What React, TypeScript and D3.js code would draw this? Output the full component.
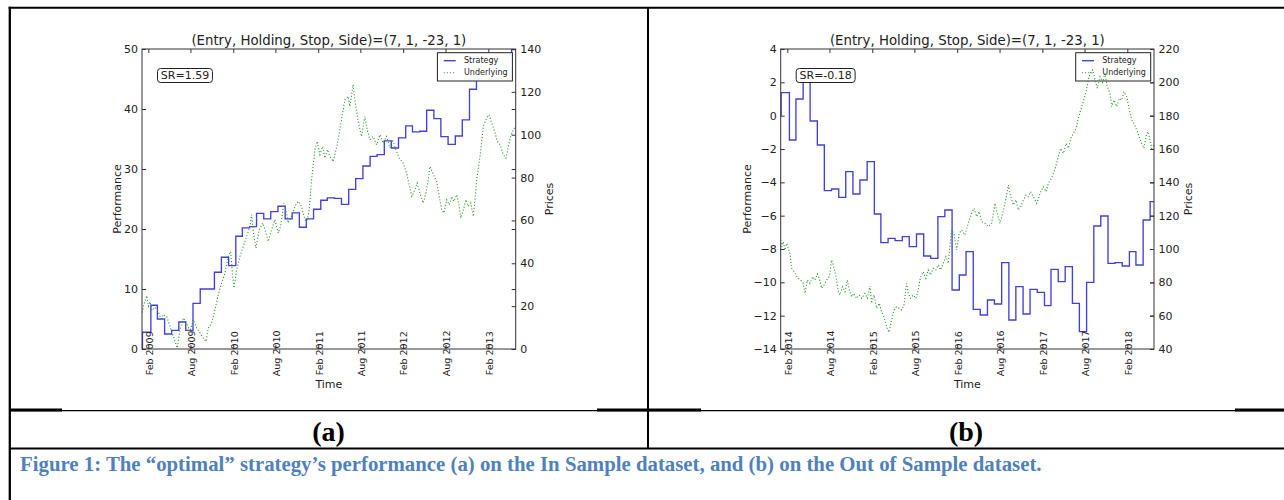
import { useEffect, useRef } from "react";
import * as d3 from "d3";

const W = 1284;
const H = 500;

const chartTitle = "(Entry, Holding, Stop, Side)=(7, 1, -23, 1)";
const seriesNames = ["Strategy", "Underlying"];
const panelLetters = ["(a)", "(b)"];
const sharpeLabels = ["SR=1.59", "SR=-0.18"];
const captionText =
  "Figure 1: The \u201coptimal\u201d strategy\u2019s performance (a) on the In Sample dataset, and (b) on the Out of Sample dataset.";

// time span of each panel, decimal years
const yearsA = [2009.0106, 2013.407];
const yearsB = [2014.007, 2018.399];

const perfTicksA = [0, 10, 20, 30, 40, 50];
const priceTicksA = [0, 20, 40, 60, 80, 100, 120, 140];
const perfTicksB = [-14, -12, -10, -8, -6, -4, -2, 0, 2, 4];
const priceTicksB = [40, 60, 80, 100, 120, 140, 160, 180, 200, 220];

// strategy level per month, first entry = January of the first year
const strategyA = [
  2.8, 7.3, 5.0, 2.5, 3.1, 4.5, 3.1, 7.6, 10.0, 10.0, 12.8, 15.3,
  13.9, 18.8, 20.2, 20.4, 22.6, 21.7, 22.9, 23.8, 21.7, 22.7, 20.3, 21.7,
  23.3, 24.8, 25.2, 25.1, 24.1, 26.6, 28.4, 30.5, 32.1, 32.4, 34.7, 33.5,
  35.2, 37.2, 36.2, 36.3, 39.8, 38.4, 35.4, 34.1, 35.5, 38.2, 43.3, 45.2,
  46.0, 46.8, 47.5, 48.6, 49.9,
];
const strategyB = [
  1.38, -1.46, 1.0, 2.5, -0.32, -1.76, -4.5, -4.4, -4.9, -3.36, -4.7, -3.86,
  -2.76, -5.9, -7.62, -7.36, -7.5, -7.26, -7.86, -7.1, -8.42, -8.56, -6.06, -5.66,
  -10.46, -9.56, -8.16, -11.62, -11.96, -11.06, -11.3, -8.82, -12.26, -10.26, -11.9, -10.42,
  -10.6, -11.4, -9.22, -9.96, -9.06, -11.26, -12.96, -10.0, -6.62, -6.02, -8.86, -8.82,
  -9.02, -8.16, -8.96, -6.26, -5.16,
];
// day of the month on which the strategy level changes
const stepDayA = 12;
const stepDayB = 10;

// underlying price: [decimal year, price]
const underlyingA: [number, number][] = [
  [2009.014, 17], [2009.034, 21], [2009.066, 24.9], [2009.087, 20], [2009.105, 22], [2009.128, 18],
  [2009.164, 19.5], [2009.202, 17.5], [2009.234, 14], [2009.258, 16], [2009.301, 15.2], [2009.34, 10.5],
  [2009.379, 5.9], [2009.426, 0.5], [2009.458, 9], [2009.496, 14.5], [2009.536, 12.1], [2009.575, 8.2],
  [2009.614, 13.7], [2009.654, 9.8], [2009.693, 7.5], [2009.732, 5.1], [2009.764, 3.5], [2009.791, 9.8],
  [2009.831, 12.1], [2009.869, 18.3], [2009.908, 25.3], [2009.948, 30.8], [2009.987, 35.5], [2010.026, 43.2],
  [2010.054, 45.5], [2010.078, 33.9], [2010.093, 28.5], [2010.125, 37], [2010.164, 43.2], [2010.202, 47.9],
  [2010.242, 52.5], [2010.281, 57.2], [2010.301, 62.7], [2010.328, 52.5], [2010.352, 47.1], [2010.391, 55.7],
  [2010.431, 58.8], [2010.458, 55.7], [2010.496, 50.2], [2010.536, 55.7], [2010.575, 60.3], [2010.614, 54.1],
  [2010.642, 57.2], [2010.681, 68.1], [2010.705, 65], [2010.732, 58.8], [2010.772, 61.9], [2010.811, 66.6],
  [2010.849, 68.9], [2010.889, 66.6], [2010.916, 61.9], [2010.948, 58.8], [2010.979, 65], [2011.007, 79],
  [2011.026, 86], [2011.046, 93], [2011.073, 96.9], [2011.105, 90.7], [2011.136, 94.5], [2011.164, 89.1],
  [2011.195, 93], [2011.222, 89.9], [2011.261, 87.5], [2011.281, 90.7], [2011.308, 95.3], [2011.34, 102.3],
  [2011.372, 110.1], [2011.399, 116.3], [2011.438, 117.9], [2011.458, 113.2], [2011.496, 123.3], [2011.516, 116.3],
  [2011.555, 106.2], [2011.595, 99.2], [2011.634, 108.5], [2011.661, 102.3], [2011.693, 97.7], [2011.732, 99.2],
  [2011.772, 95.3], [2011.811, 100], [2011.849, 96.1], [2011.889, 99.2], [2011.928, 93.8], [2011.96, 97.7],
  [2011.999, 93], [2012.038, 89.1], [2012.085, 86.8], [2012.125, 82.1], [2012.164, 75], [2012.187, 71.2],
  [2012.222, 74.3], [2012.249, 77.5], [2012.281, 72.8], [2012.32, 68.1], [2012.352, 72.8], [2012.379, 79],
  [2012.399, 85.2], [2012.434, 82], [2012.478, 78], [2012.508, 71.2], [2012.536, 65], [2012.564, 63.5],
  [2012.595, 69.7], [2012.626, 67.3], [2012.654, 71.2], [2012.681, 68.9], [2012.713, 72], [2012.744, 66.6],
  [2012.76, 61.1], [2012.791, 65], [2012.822, 69.7], [2012.849, 66.6], [2012.878, 68.1], [2012.908, 61.9],
  [2012.928, 69.7], [2012.948, 79], [2012.987, 89.9], [2013.026, 103.9], [2013.066, 107.8], [2013.093, 109.3],
  [2013.125, 105.5], [2013.164, 100.8], [2013.191, 96.9], [2013.222, 95.3], [2013.261, 90.7], [2013.293, 89.1],
  [2013.32, 94.5], [2013.348, 99.2], [2013.379, 102.3], [2013.407, 103.9],
];
const underlyingB: [number, number][] = [
  [2014.007, 105.4], [2014.019, 101.4], [2014.038, 104.4], [2014.058, 99.4], [2014.078, 103.4], [2014.096, 100.4],
  [2014.116, 97.4], [2014.136, 88.4], [2014.155, 87.4], [2014.187, 84.4], [2014.214, 82.4], [2014.242, 81.4],
  [2014.273, 79.4], [2014.293, 73.4], [2014.32, 81.4], [2014.352, 79.4], [2014.384, 83.4], [2014.411, 81.4],
  [2014.438, 85], [2014.461, 82.4], [2014.489, 76.4], [2014.516, 78.4], [2014.548, 81.4], [2014.579, 83.4],
  [2014.607, 93.4], [2014.626, 90.4], [2014.658, 83.4], [2014.685, 74.4], [2014.705, 72.4], [2014.736, 77.4],
  [2014.764, 74.4], [2014.791, 81.4], [2014.814, 75.4], [2014.842, 71.4], [2014.869, 73.4], [2014.901, 70.4],
  [2014.932, 72.4], [2014.96, 70.4], [2014.999, 73.4], [2015.026, 70.4], [2015.058, 77.8], [2015.078, 67.4],
  [2015.105, 72.4], [2015.136, 64.4], [2015.167, 67.4], [2015.195, 62.4], [2015.222, 59.4], [2015.254, 53.4],
  [2015.281, 50], [2015.313, 57.4], [2015.34, 63.4], [2015.372, 65.4], [2015.402, 64.4], [2015.431, 63.4],
  [2015.458, 66.4], [2015.489, 79.4], [2015.508, 73.4], [2015.536, 70.4], [2015.567, 72.4], [2015.599, 70.4],
  [2015.626, 75.4], [2015.654, 83.4], [2015.685, 86.4], [2015.716, 82.4], [2015.744, 87.4], [2015.772, 84.4],
  [2015.802, 88.4], [2015.834, 87.4], [2015.861, 90.4], [2015.889, 87.4], [2015.92, 91.4], [2015.952, 95.4],
  [2015.979, 91.4], [2015.999, 101.4], [2016.019, 111.4], [2016.046, 109.4], [2016.078, 99.4], [2016.108, 109.4],
  [2016.136, 111.4], [2016.175, 108.4], [2016.214, 115.4], [2016.254, 121.4], [2016.281, 124.4], [2016.313, 119.4],
  [2016.344, 122.4], [2016.372, 116.4], [2016.411, 115.4], [2016.449, 113.4], [2016.489, 115.4], [2016.528, 127.4],
  [2016.555, 121.4], [2016.587, 115.4], [2016.619, 121.4], [2016.658, 130.4], [2016.685, 138.4], [2016.713, 131.4],
  [2016.744, 126.4], [2016.775, 129.4], [2016.802, 123.4], [2016.831, 125.4], [2016.861, 129.4], [2016.893, 132.4],
  [2016.92, 131.4], [2016.948, 134.4], [2016.979, 131.4], [2017.019, 127.4], [2017.058, 133.4], [2017.096, 137.4],
  [2017.128, 134.4], [2017.155, 139.4], [2017.195, 143], [2017.234, 148], [2017.273, 155.4], [2017.301, 160.4],
  [2017.332, 157.4], [2017.364, 163.4], [2017.391, 160.4], [2017.419, 166.4], [2017.449, 169.4], [2017.481, 172.4],
  [2017.508, 178.4], [2017.536, 183.4], [2017.567, 188.4], [2017.599, 194.4], [2017.626, 201.4], [2017.646, 205.4],
  [2017.678, 207.4], [2017.705, 201.4], [2017.732, 196.4], [2017.764, 203.4], [2017.795, 200], [2017.822, 205.4],
  [2017.849, 197.4], [2017.881, 193.4], [2017.901, 185.4], [2017.928, 189.4], [2017.96, 185.4], [2017.991, 190.4],
  [2018.019, 189.4], [2018.046, 194.4], [2018.078, 191.4], [2018.108, 183.4], [2018.136, 177.4], [2018.164, 175.4],
  [2018.195, 171.4], [2018.226, 167.4], [2018.254, 163.4], [2018.281, 160.4], [2018.313, 169.4], [2018.332, 170.4],
  [2018.352, 165.4], [2018.372, 160.4], [2018.399, 162.4],
];

// layout of the two axes boxes
const panelBoxes = [
  { left: 142, right: 515.7, top: 49, bottom: 349, perfLabelX: 120.7, priceLabelX: 553 },
  { left: 780.7, right: 1154, top: 49, bottom: 349, perfLabelX: 750.7, priceLabelX: 1191.7 },
];

const panels = [
  { years: yearsA, perfTicks: perfTicksA, priceTicks: priceTicksA, strategy: strategyA, stepDay: stepDayA, underlying: underlyingA, sr: sharpeLabels[0] },
  { years: yearsB, perfTicks: perfTicksB, priceTicks: priceTicksB, strategy: strategyB, stepDay: stepDayB, underlying: underlyingB, sr: sharpeLabels[1] },
];

const FONT = "'DejaVu Sans', 'Bitstream Vera Sans', sans-serif";
const SERIF = "'Liberation Serif', 'Times New Roman', serif";
const BLUE = "#4040dd";
const GREEN = "#2f962f";
const INK = "#222";

const fromDec = (v: number) => {
  const yr = Math.floor(v);
  const a = Date.UTC(yr, 0, 1);
  const b = Date.UTC(yr + 1, 0, 1);
  return new Date(a + (v - yr) * (b - a));
};

function drawPanel(svg: any, p: any, i: number) {
  const box = panelBoxes[i];
  const t0 = fromDec(p.years[0]);
  const t1 = fromDec(p.years[1]);
  const startYear = Math.floor(p.years[0]);

  const x = d3.scaleUtc().domain([t0, t1]).range([box.left, box.right]);
  const y1 = d3.scaleLinear().domain(d3.extent(p.perfTicks) as [number, number]).range([box.bottom, box.top]);
  const y2 = d3.scaleLinear().domain(d3.extent(p.priceTicks) as [number, number]).range([box.bottom, box.top]);

  const g = svg.append("g");
  const clipId = `plot-clip-${i}`;
  g.append("clipPath")
    .attr("id", clipId)
    .append("rect")
    .attr("x", box.left)
    .attr("y", box.top)
    .attr("width", box.right - box.left)
    .attr("height", box.bottom - box.top);

  // strategy step line
  const steps: { t: Date; v: number }[] = [{ t: t0, v: 0 }];
  p.strategy.forEach((v: number, k: number) => {
    const t = k === 0 ? d3.utcDay.offset(t0, 2) : new Date(Date.UTC(startYear, k, p.stepDay));
    steps.push({ t, v });
  });
  steps.push({ t: t1, v: p.strategy[p.strategy.length - 1] });

  const stepLine = d3
    .line<{ t: Date; v: number }>()
    .x((d) => x(d.t))
    .y((d) => y1(d.v))
    .curve(d3.curveStepAfter);

  g.append("path")
    .attr("clip-path", `url(#${clipId})`)
    .attr("d", stepLine(steps))
    .attr("fill", "none")
    .attr("stroke", BLUE)
    .attr("stroke-width", 1.35);

  // legend
  const lg = g.append("g").attr("transform", `translate(${box.right - 78.3},${box.top + 3.7})`);
  lg.append("rect").attr("width", 75).attr("height", 28.3).attr("fill", "#fff").attr("stroke", INK).attr("stroke-width", 1);
  seriesNames.forEach((name, k) => {
    const ly = 8 + k * 12;
    lg.append("line")
      .attr("x1", 6.3)
      .attr("x2", 18.3)
      .attr("y1", ly)
      .attr("y2", ly)
      .attr("stroke", k === 0 ? BLUE : GREEN)
      .attr("stroke-width", k === 0 ? 1.35 : 1.1)
      .attr("stroke-dasharray", k === 0 ? null : "1.1 2");
    lg.append("text")
      .attr("x", 26.6)
      .attr("y", ly + 2.8)
      .attr("font-family", FONT)
      .attr("font-size", 8)
      .attr("fill", INK)
      .text(name);
  });

  // Sharpe ratio box
  const sg = g.append("g");
  const st = sg
    .append("text")
    .attr("x", box.left + 18.8)
    .attr("y", box.top + 26.5)
    .attr("dominant-baseline", "central")
    .attr("font-family", FONT)
    .attr("font-size", 11)
    .attr("fill", INK)
    .text(p.sr);
  const tw = (st.node() as SVGTextElement).getComputedTextLength();
  sg.insert("rect", "text")
    .attr("x", box.left + 15.5)
    .attr("y", box.top + 19.5)
    .attr("width", tw + 6.6)
    .attr("height", 14)
    .attr("rx", 3)
    .attr("fill", "#fff")
    .attr("stroke", INK)
    .attr("stroke-width", 1);

  // underlying dotted line (second axes, drawn on top)
  const priceLine = d3
    .line<[number, number]>()
    .x((d) => x(fromDec(d[0])))
    .y((d) => y2(d[1]));
  g.append("path")
    .attr("clip-path", `url(#${clipId})`)
    .attr("d", priceLine(p.underlying))
    .attr("fill", "none")
    .attr("stroke", GREEN)
    .attr("stroke-width", 1.1)
    .attr("stroke-dasharray", "1.1 2");

  // axes
  const dateTicks = d3.utcMonths(t0, t1).filter((d) => d.getUTCMonth() === 1 || d.getUTCMonth() === 7);
  const styleAxis = (a: any) => {
    a.select(".domain").remove();
    a.selectAll("line").attr("stroke", "#333");
    a.attr("font-family", FONT).attr("font-size", 11);
    a.selectAll("text").attr("fill", INK);
  };

  g.append("g")
    .attr("transform", `translate(${box.left},0)`)
    .call(d3.axisLeft(y1).tickValues(p.perfTicks).tickSize(-4).tickPadding(4).tickSizeOuter(0).tickFormat((d: any) => d3.format("")(d).replace("-", "\u2212")))
    .call(styleAxis);
  g.append("g")
    .attr("transform", `translate(${box.right},0)`)
    .call(d3.axisRight(y1).tickValues(p.perfTicks).tickSize(-4).tickSizeOuter(0).tickFormat(() => ""))
    .call(styleAxis);
  g.append("g")
    .attr("transform", `translate(${box.right},0)`)
    .call(d3.axisRight(y2).tickValues(p.priceTicks).tickSize(-4).tickPadding(4.5).tickSizeOuter(0))
    .call(styleAxis);
  g.append("g")
    .attr("transform", `translate(0,${box.top})`)
    .call(d3.axisTop(x).tickValues(dateTicks).tickSize(-4).tickSizeOuter(0).tickFormat(() => ""))
    .call(styleAxis);
  g.append("g")
    .attr("transform", `translate(0,${box.bottom})`)
    .call(d3.axisBottom(x).tickValues(dateTicks).tickSize(-4).tickSizeOuter(0).tickFormat(d3.utcFormat("%b %Y") as any))
    .call(styleAxis)
    .call((a: any) =>
      a
        .selectAll("text")
        .attr("y", null)
        .attr("dy", null)
        .attr("font-size", 9.5)
        .attr("text-anchor", "middle")
        .attr("transform", "translate(3.8,4.3) rotate(-90)")
    );

  // spines
  g.append("rect")
    .attr("x", box.left)
    .attr("y", box.top)
    .attr("width", box.right - box.left)
    .attr("height", box.bottom - box.top)
    .attr("fill", "none")
    .attr("stroke", "#333")
    .attr("stroke-width", 1);

  const cx = (box.left + box.right) / 2;
  const cy = (box.top + box.bottom) / 2;
  g.append("text")
    .attr("x", cx)
    .attr("y", box.top - 4.5)
    .attr("text-anchor", "middle")
    .attr("font-family", FONT)
    .attr("font-size", 13.3)
    .attr("fill", INK)
    .text(chartTitle);
  g.append("text")
    .attr("x", cx)
    .attr("y", 387.5)
    .attr("text-anchor", "middle")
    .attr("font-family", FONT)
    .attr("font-size", 11)
    .attr("fill", INK)
    .text("Time");
  g.append("text")
    .attr("transform", `translate(${box.perfLabelX},${cy}) rotate(-90)`)
    .attr("text-anchor", "middle")
    .attr("font-family", FONT)
    .attr("font-size", 11)
    .attr("fill", INK)
    .text("Performance");
  g.append("text")
    .attr("transform", `translate(${box.priceLabelX},${cy}) rotate(-90)`)
    .attr("text-anchor", "middle")
    .attr("font-family", FONT)
    .attr("font-size", 11)
    .attr("fill", INK)
    .text("Prices");
}

function drawFrame(svg: any) {
  const f = svg.append("g").attr("stroke", "#000");
  f.append("line").attr("x1", 8.7).attr("x2", W).attr("y1", 7.7).attr("y2", 7.7).attr("stroke-width", 2);
  f.append("line").attr("x1", 9.8).attr("x2", 9.8).attr("y1", 6.7).attr("y2", H).attr("stroke-width", 2.3);
  f.append("line").attr("x1", 648).attr("x2", 648).attr("y1", 7).attr("y2", 448).attr("stroke-width", 2);
  f.append("line").attr("x1", 9).attr("x2", W).attr("y1", 410.7).attr("y2", 410.7).attr("stroke-width", 1.3);
  [[9, 62], [597, 701], [1235, W]].forEach(([a, b]) =>
    f.append("line").attr("x1", a).attr("x2", b).attr("y1", 410).attr("y2", 410).attr("stroke-width", 3)
  );
  f.append("line").attr("x1", 9).attr("x2", W).attr("y1", 448.5).attr("y2", 448.5).attr("stroke-width", 2);

  [328.5, 966].forEach((cx, k) =>
    svg
      .append("text")
      .attr("x", cx)
      .attr("y", 441)
      .attr("text-anchor", "middle")
      .attr("font-family", SERIF)
      .attr("font-weight", "bold")
      .attr("font-size", 28)
      .attr("fill", "#000")
      .text(panelLetters[k])
  );

  svg
    .append("text")
    .attr("x", 20)
    .attr("y", 471)
    .attr("font-family", SERIF)
    .attr("font-weight", "bold")
    .attr("font-size", 20.8)
    .attr("fill", "#4F81BD")
    .text(captionText);
}

export default function App() {
  const ref = useRef<SVGSVGElement | null>(null);

  useEffect(() => {
    const svg = d3.select(ref.current);
    svg.selectAll("*").remove();
    svg.append("rect").attr("width", W).attr("height", H).attr("fill", "#fff");
    panels.forEach((p, i) => drawPanel(svg, p, i));
    drawFrame(svg);
  }, []);

  return (
    <svg
      ref={ref}
      width={W}
      height={H}
      style={{ position: "absolute", left: 0, top: 0, display: "block" }}
    />
  );
}
